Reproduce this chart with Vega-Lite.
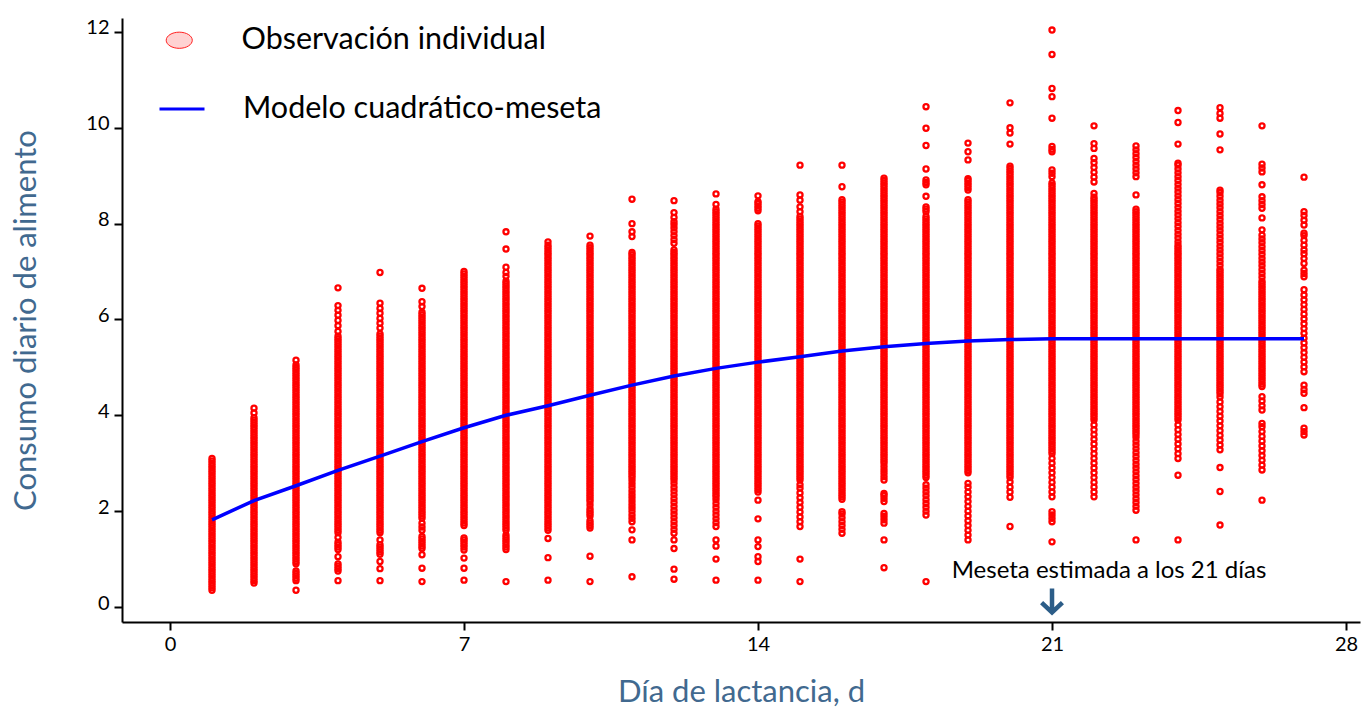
{
  "$schema": "https://vega.github.io/schema/vega-lite/v6.json",
  "width": 1238,
  "height": 604,
  "autosize": {"type": "none"},
  "padding": {"left": 122, "top": 18, "right": 1, "bottom": 90},
  "background": "white",
  "config": {"view": {"stroke": null}, "font": "Lato"},
  "datasets": {
    "obs": [
      {"d": 1, "c": [0.35,0.4,0.45,0.5,0.55,0.6,0.65,0.7,0.75,0.8,0.85,0.9,0.95,1,1.05,1.1,1.15,1.2,1.25,1.3,1.35,1.4,1.45,1.5,1.55,1.6,1.65,1.7,1.75,1.8,1.85,1.9,1.95,2,2.05,2.1,2.15,2.2,2.25,2.3,2.35,2.4,2.45,2.5,2.55,2.6,2.65,2.7,2.75,2.8,2.85,2.9,2.95,3,3.05,3.1]},
      {"d": 2, "c": [0.5,0.55,0.6,0.65,0.7,0.75,0.8,0.85,0.9,0.95,1,1.05,1.1,1.15,1.2,1.25,1.3,1.35,1.4,1.45,1.5,1.55,1.6,1.65,1.7,1.75,1.8,1.85,1.9,1.95,2,2.05,2.1,2.15,2.2,2.25,2.3,2.35,2.4,2.45,2.5,2.55,2.6,2.65,2.7,2.75,2.8,2.85,2.9,2.95,3,3.05,3.1,3.15,3.2,3.25,3.3,3.35,3.4,3.45,3.5,3.55,3.6,3.65,3.7,3.75,3.8,3.85,3.9,3.95,4.05,4.15]},
      {"d": 3, "c": [0.35,0.55,0.6,0.65,0.7,0.75,0.9,0.95,1,1.05,1.1,1.15,1.2,1.25,1.3,1.35,1.4,1.45,1.5,1.55,1.6,1.65,1.7,1.75,1.8,1.85,1.9,1.95,2,2.05,2.1,2.15,2.2,2.25,2.3,2.35,2.4,2.45,2.5,2.55,2.6,2.65,2.7,2.75,2.8,2.85,2.9,2.95,3,3.05,3.1,3.15,3.2,3.25,3.3,3.35,3.4,3.45,3.5,3.55,3.6,3.65,3.7,3.75,3.8,3.85,3.9,3.95,4,4.05,4.1,4.15,4.2,4.25,4.3,4.35,4.4,4.45,4.5,4.55,4.6,4.65,4.7,4.75,4.8,4.85,4.9,4.95,5,5.05,5.15]},
      {"d": 4, "c": [0.55,0.75,0.8,0.85,0.9,1.05,1.2,1.25,1.3,1.35,1.45,1.55,1.6,1.65,1.7,1.75,1.8,1.85,1.9,1.95,2,2.05,2.1,2.15,2.2,2.25,2.3,2.35,2.4,2.45,2.5,2.55,2.6,2.65,2.7,2.75,2.8,2.85,2.9,2.95,3,3.05,3.1,3.15,3.2,3.25,3.3,3.35,3.4,3.45,3.5,3.55,3.6,3.65,3.7,3.75,3.8,3.85,3.9,3.95,4,4.05,4.1,4.15,4.2,4.25,4.3,4.35,4.4,4.45,4.5,4.55,4.6,4.65,4.7,4.75,4.8,4.85,4.9,4.95,5,5.05,5.1,5.15,5.2,5.25,5.3,5.35,5.4,5.45,5.5,5.55,5.6,5.65,5.75,5.87,5.98,6.09,6.19,6.29,6.66]},
      {"d": 5, "c": [0.55,0.8,0.95,1.1,1.15,1.2,1.25,1.3,1.4,1.55,1.6,1.65,1.7,1.75,1.8,1.85,1.9,1.95,2,2.05,2.1,2.15,2.2,2.25,2.3,2.35,2.4,2.45,2.5,2.55,2.6,2.65,2.7,2.75,2.8,2.85,2.9,2.95,3,3.05,3.1,3.15,3.2,3.25,3.3,3.35,3.4,3.45,3.5,3.55,3.6,3.65,3.7,3.75,3.8,3.85,3.9,3.95,4,4.05,4.1,4.15,4.2,4.25,4.3,4.35,4.4,4.45,4.5,4.55,4.6,4.65,4.7,4.75,4.8,4.85,4.9,4.95,5,5.05,5.1,5.15,5.2,5.25,5.3,5.35,5.4,5.45,5.5,5.55,5.6,5.65,5.7,5.82,5.92,6.02,6.13,6.23,6.34,6.98]},
      {"d": 6, "c": [0.53,0.81,1.09,1.22,1.27,1.32,1.37,1.42,1.47,1.6,1.67,1.75,1.85,1.9,1.95,2,2.05,2.1,2.15,2.2,2.25,2.3,2.35,2.4,2.45,2.5,2.55,2.6,2.65,2.7,2.75,2.8,2.85,2.9,2.95,3,3.05,3.1,3.15,3.2,3.25,3.3,3.35,3.4,3.45,3.5,3.55,3.6,3.65,3.7,3.75,3.8,3.85,3.9,3.95,4,4.05,4.1,4.15,4.2,4.25,4.3,4.35,4.4,4.45,4.5,4.55,4.6,4.65,4.7,4.75,4.8,4.85,4.9,4.95,5,5.05,5.1,5.15,5.2,5.25,5.3,5.35,5.4,5.45,5.5,5.55,5.6,5.65,5.7,5.75,5.8,5.85,5.9,5.95,6,6.05,6.1,6.15,6.27,6.37,6.65]},
      {"d": 7, "c": [0.56,0.81,1.02,1.19,1.25,1.3,1.35,1.4,1.44,1.7,1.75,1.8,1.85,1.9,1.95,2,2.05,2.1,2.15,2.2,2.25,2.3,2.35,2.4,2.45,2.5,2.55,2.6,2.65,2.7,2.75,2.8,2.85,2.9,2.95,3,3.05,3.1,3.15,3.2,3.25,3.3,3.35,3.4,3.45,3.5,3.55,3.6,3.65,3.7,3.75,3.8,3.85,3.9,3.95,4,4.05,4.1,4.15,4.2,4.25,4.3,4.35,4.4,4.45,4.5,4.55,4.6,4.65,4.7,4.75,4.8,4.85,4.9,4.95,5,5.05,5.1,5.15,5.2,5.25,5.3,5.35,5.4,5.45,5.5,5.55,5.6,5.65,5.7,5.75,5.8,5.85,5.9,5.95,6,6.05,6.1,6.15,6.2,6.25,6.3,6.35,6.4,6.45,6.5,6.55,6.6,6.65,6.7,6.75,6.8,6.85,6.9,6.95,7]},
      {"d": 8, "c": [0.53,1.2,1.25,1.3,1.35,1.4,1.45,1.5,1.6,1.65,1.7,1.75,1.8,1.85,1.9,1.95,2,2.05,2.1,2.15,2.2,2.25,2.3,2.35,2.4,2.45,2.5,2.55,2.6,2.65,2.7,2.75,2.8,2.85,2.9,2.95,3,3.05,3.1,3.15,3.2,3.25,3.3,3.35,3.4,3.45,3.5,3.55,3.6,3.65,3.7,3.75,3.8,3.85,3.9,3.95,4,4.05,4.1,4.15,4.2,4.25,4.3,4.35,4.4,4.45,4.5,4.55,4.6,4.65,4.7,4.75,4.8,4.85,4.9,4.95,5,5.05,5.1,5.15,5.2,5.25,5.3,5.35,5.4,5.45,5.5,5.55,5.6,5.65,5.7,5.75,5.8,5.85,5.9,5.95,6,6.05,6.1,6.15,6.2,6.25,6.3,6.35,6.4,6.45,6.5,6.55,6.6,6.65,6.7,6.75,6.8,6.9,6.98,7.09,7.47,7.83]},
      {"d": 9, "c": [0.56,1.03,1.43,1.6,1.65,1.7,1.75,1.8,1.85,1.9,1.95,2,2.05,2.1,2.15,2.2,2.25,2.3,2.35,2.4,2.45,2.5,2.55,2.6,2.65,2.7,2.75,2.8,2.85,2.9,2.95,3,3.05,3.1,3.15,3.2,3.25,3.3,3.35,3.4,3.45,3.5,3.55,3.6,3.65,3.7,3.75,3.8,3.85,3.9,3.95,4,4.05,4.1,4.15,4.2,4.25,4.3,4.35,4.4,4.45,4.5,4.55,4.6,4.65,4.7,4.75,4.8,4.85,4.9,4.95,5,5.05,5.1,5.15,5.2,5.25,5.3,5.35,5.4,5.45,5.5,5.55,5.6,5.65,5.7,5.75,5.8,5.85,5.9,5.95,6,6.05,6.1,6.15,6.2,6.25,6.3,6.35,6.4,6.45,6.5,6.55,6.6,6.65,6.7,6.75,6.8,6.85,6.9,6.95,7,7.05,7.1,7.15,7.2,7.25,7.3,7.35,7.4,7.45,7.5,7.55,7.62]},
      {"d": 10, "c": [0.53,1.06,1.65,1.7,1.75,1.8,1.9,1.95,2,2.05,2.13,2.2,2.25,2.3,2.35,2.4,2.45,2.5,2.55,2.6,2.65,2.7,2.75,2.8,2.85,2.9,2.95,3,3.05,3.1,3.15,3.2,3.25,3.3,3.35,3.4,3.45,3.5,3.55,3.6,3.65,3.7,3.75,3.8,3.85,3.9,3.95,4,4.05,4.1,4.15,4.2,4.25,4.3,4.35,4.4,4.45,4.5,4.55,4.6,4.65,4.7,4.75,4.8,4.85,4.9,4.95,5,5.05,5.1,5.15,5.2,5.25,5.3,5.35,5.4,5.45,5.5,5.55,5.6,5.65,5.7,5.75,5.8,5.85,5.9,5.95,6,6.05,6.1,6.15,6.2,6.25,6.3,6.35,6.4,6.45,6.5,6.55,6.6,6.65,6.7,6.75,6.8,6.85,6.9,6.95,7,7.05,7.1,7.15,7.2,7.25,7.3,7.35,7.4,7.45,7.5,7.55,7.74]},
      {"d": 11, "c": [0.63,1.4,1.61,1.78,1.85,1.92,2,2.07,2.14,2.21,2.28,2.35,2.42,2.5,2.57,2.64,2.7,2.75,2.8,2.85,2.9,2.95,3,3.05,3.1,3.15,3.2,3.25,3.3,3.35,3.4,3.45,3.5,3.55,3.6,3.65,3.7,3.75,3.8,3.85,3.9,3.95,4,4.05,4.1,4.15,4.2,4.25,4.3,4.35,4.4,4.45,4.5,4.55,4.6,4.65,4.7,4.75,4.8,4.85,4.9,4.95,5,5.05,5.1,5.15,5.2,5.25,5.3,5.35,5.4,5.45,5.5,5.55,5.6,5.65,5.7,5.75,5.8,5.85,5.9,5.95,6,6.05,6.1,6.15,6.2,6.25,6.3,6.35,6.4,6.45,6.5,6.55,6.6,6.65,6.7,6.75,6.8,6.85,6.9,6.95,7,7.05,7.1,7.15,7.2,7.25,7.3,7.35,7.4,7.73,7.83,8,8.51]},
      {"d": 12, "c": [0.58,0.79,1.22,1.4,1.54,1.62,1.7,1.78,1.86,1.94,2.02,2.1,2.18,2.26,2.34,2.42,2.5,2.58,2.65,2.7,2.75,2.8,2.85,2.9,2.95,3,3.05,3.1,3.15,3.2,3.25,3.3,3.35,3.4,3.45,3.5,3.55,3.6,3.65,3.7,3.75,3.8,3.85,3.9,3.95,4,4.05,4.1,4.15,4.2,4.25,4.3,4.35,4.4,4.45,4.5,4.55,4.6,4.65,4.7,4.75,4.8,4.85,4.9,4.95,5,5.05,5.1,5.15,5.2,5.25,5.3,5.35,5.4,5.45,5.5,5.55,5.6,5.65,5.7,5.75,5.8,5.85,5.9,5.95,6,6.05,6.1,6.15,6.2,6.25,6.3,6.35,6.4,6.45,6.5,6.55,6.6,6.65,6.7,6.75,6.8,6.85,6.9,6.95,7,7.05,7.1,7.15,7.2,7.25,7.3,7.35,7.4,7.45,7.59,7.67,7.75,7.83,7.91,7.98,8.04,8.13,8.23,8.48]},
      {"d": 13, "c": [0.56,1,1.27,1.4,1.68,1.76,1.84,1.92,2,2.08,2.16,2.24,2.3,2.35,2.4,2.45,2.5,2.55,2.6,2.65,2.7,2.75,2.8,2.85,2.9,2.95,3,3.05,3.1,3.15,3.2,3.25,3.3,3.35,3.4,3.45,3.5,3.55,3.6,3.65,3.7,3.75,3.8,3.85,3.9,3.95,4,4.05,4.1,4.15,4.2,4.25,4.3,4.35,4.4,4.45,4.5,4.55,4.6,4.65,4.7,4.75,4.8,4.85,4.9,4.95,5,5.05,5.1,5.15,5.2,5.25,5.3,5.35,5.4,5.45,5.5,5.55,5.6,5.65,5.7,5.75,5.8,5.85,5.9,5.95,6,6.05,6.1,6.15,6.2,6.25,6.3,6.35,6.4,6.45,6.5,6.55,6.6,6.65,6.7,6.75,6.8,6.85,6.9,6.95,7,7.05,7.1,7.15,7.2,7.25,7.3,7.35,7.4,7.45,7.5,7.55,7.6,7.65,7.7,7.75,7.8,7.85,7.9,7.95,8,8.05,8.1,8.15,8.2,8.25,8.3,8.4,8.62]},
      {"d": 14, "c": [0.56,0.95,1.05,1.26,1.4,1.84,2.23,2.4,2.45,2.5,2.55,2.6,2.65,2.7,2.75,2.8,2.85,2.9,2.95,3,3.05,3.1,3.15,3.2,3.25,3.3,3.35,3.4,3.45,3.5,3.55,3.6,3.65,3.7,3.75,3.8,3.85,3.9,3.95,4,4.05,4.1,4.15,4.2,4.25,4.3,4.35,4.4,4.45,4.5,4.55,4.6,4.65,4.7,4.75,4.8,4.85,4.9,4.95,5,5.05,5.1,5.15,5.2,5.25,5.3,5.35,5.4,5.45,5.5,5.55,5.6,5.65,5.7,5.75,5.8,5.85,5.9,5.95,6,6.05,6.1,6.15,6.2,6.25,6.3,6.35,6.4,6.45,6.5,6.55,6.6,6.65,6.7,6.75,6.8,6.85,6.9,6.95,7,7.05,7.1,7.15,7.2,7.25,7.3,7.35,7.4,7.45,7.5,7.55,7.6,7.65,7.7,7.75,7.8,7.85,7.9,7.95,8,8.27,8.32,8.37,8.42,8.46,8.58]},
      {"d": 15, "c": [0.53,1,1.68,1.78,1.88,1.98,2.08,2.18,2.28,2.38,2.48,2.55,2.65,2.7,2.75,2.8,2.85,2.9,2.95,3,3.05,3.1,3.15,3.2,3.25,3.3,3.35,3.4,3.45,3.5,3.55,3.6,3.65,3.7,3.75,3.8,3.85,3.9,3.95,4,4.05,4.1,4.15,4.2,4.25,4.3,4.35,4.4,4.45,4.5,4.55,4.6,4.65,4.7,4.75,4.8,4.85,4.9,4.95,5,5.05,5.1,5.15,5.2,5.25,5.3,5.35,5.4,5.45,5.5,5.55,5.6,5.65,5.7,5.75,5.8,5.85,5.9,5.95,6,6.05,6.1,6.15,6.2,6.25,6.3,6.35,6.4,6.45,6.5,6.55,6.6,6.65,6.7,6.75,6.8,6.85,6.9,6.95,7,7.05,7.1,7.15,7.2,7.25,7.3,7.35,7.4,7.45,7.5,7.55,7.6,7.65,7.7,7.75,7.8,7.85,7.9,7.95,8,8.05,8.1,8.15,8.25,8.35,8.49,8.6,9.22]},
      {"d": 16, "c": [1.54,1.62,1.7,1.78,1.86,1.94,1.99,2.25,2.3,2.35,2.4,2.45,2.5,2.55,2.6,2.65,2.7,2.75,2.8,2.85,2.9,2.95,3,3.05,3.1,3.15,3.2,3.25,3.3,3.35,3.4,3.45,3.5,3.55,3.6,3.65,3.7,3.75,3.8,3.85,3.9,3.95,4,4.05,4.1,4.15,4.2,4.25,4.3,4.35,4.4,4.45,4.5,4.55,4.6,4.65,4.7,4.75,4.8,4.85,4.9,4.95,5,5.05,5.1,5.15,5.2,5.25,5.3,5.35,5.4,5.45,5.5,5.55,5.6,5.65,5.7,5.75,5.8,5.85,5.9,5.95,6,6.05,6.1,6.15,6.2,6.25,6.3,6.35,6.4,6.45,6.5,6.55,6.6,6.65,6.7,6.75,6.8,6.85,6.9,6.95,7,7.05,7.1,7.15,7.2,7.25,7.3,7.35,7.4,7.45,7.5,7.55,7.6,7.65,7.7,7.75,7.8,7.85,7.9,7.95,8,8.05,8.1,8.15,8.2,8.25,8.3,8.35,8.4,8.45,8.5,8.77,9.22]},
      {"d": 17, "c": [0.82,1.4,1.75,1.82,1.89,1.95,2.2,2.27,2.33,2.37,2.65,2.72,2.79,2.86,2.93,3,3.05,3.1,3.15,3.2,3.25,3.3,3.35,3.4,3.45,3.5,3.55,3.6,3.65,3.7,3.75,3.8,3.85,3.9,3.95,4,4.05,4.1,4.15,4.2,4.25,4.3,4.35,4.4,4.45,4.5,4.55,4.6,4.65,4.7,4.75,4.8,4.85,4.9,4.95,5,5.05,5.1,5.15,5.2,5.25,5.3,5.35,5.4,5.45,5.5,5.55,5.6,5.65,5.7,5.75,5.8,5.85,5.9,5.95,6,6.05,6.1,6.15,6.2,6.25,6.3,6.35,6.4,6.45,6.5,6.55,6.6,6.65,6.7,6.75,6.8,6.85,6.9,6.95,7,7.05,7.1,7.15,7.2,7.25,7.3,7.35,7.4,7.45,7.5,7.55,7.6,7.65,7.7,7.75,7.8,7.85,7.9,7.95,8,8.05,8.1,8.15,8.2,8.25,8.3,8.35,8.4,8.45,8.5,8.55,8.6,8.65,8.7,8.75,8.8,8.85,8.9,8.95]},
      {"d": 18, "c": [0.53,1.92,2,2.08,2.16,2.24,2.32,2.4,2.48,2.55,2.7,2.75,2.8,2.85,2.9,2.95,3,3.05,3.1,3.15,3.2,3.25,3.3,3.35,3.4,3.45,3.5,3.55,3.6,3.65,3.7,3.75,3.8,3.85,3.9,3.95,4,4.05,4.1,4.15,4.2,4.25,4.3,4.35,4.4,4.45,4.5,4.55,4.6,4.65,4.7,4.75,4.8,4.85,4.9,4.95,5,5.05,5.1,5.15,5.2,5.25,5.3,5.35,5.4,5.45,5.5,5.55,5.6,5.65,5.7,5.75,5.8,5.85,5.9,5.95,6,6.05,6.1,6.15,6.2,6.25,6.3,6.35,6.4,6.45,6.5,6.55,6.6,6.65,6.7,6.75,6.8,6.85,6.9,6.95,7,7.05,7.1,7.15,7.2,7.25,7.3,7.35,7.4,7.45,7.5,7.55,7.6,7.65,7.7,7.75,7.8,7.85,7.9,7.95,8,8.05,8.1,8.15,8.25,8.3,8.35,8.57,8.81,8.86,8.91,9.14,9.63,9.99,10.44]},
      {"d": 19, "c": [1.4,1.5,1.6,1.7,1.8,1.9,2,2.1,2.2,2.3,2.4,2.5,2.58,2.8,2.85,2.9,2.95,3,3.05,3.1,3.15,3.2,3.25,3.3,3.35,3.4,3.45,3.5,3.55,3.6,3.65,3.7,3.75,3.8,3.85,3.9,3.95,4,4.05,4.1,4.15,4.2,4.25,4.3,4.35,4.4,4.45,4.5,4.55,4.6,4.65,4.7,4.75,4.8,4.85,4.9,4.95,5,5.05,5.1,5.15,5.2,5.25,5.3,5.35,5.4,5.45,5.5,5.55,5.6,5.65,5.7,5.75,5.8,5.85,5.9,5.95,6,6.05,6.1,6.15,6.2,6.25,6.3,6.35,6.4,6.45,6.5,6.55,6.6,6.65,6.7,6.75,6.8,6.85,6.9,6.95,7,7.05,7.1,7.15,7.2,7.25,7.3,7.35,7.4,7.45,7.5,7.55,7.6,7.65,7.7,7.75,7.8,7.85,7.9,7.95,8,8.05,8.1,8.15,8.2,8.25,8.3,8.35,8.4,8.45,8.5,8.7,8.75,8.8,8.85,8.9,8.94,9.33,9.5,9.68]},
      {"d": 20, "c": [1.68,2.29,2.4,2.5,2.61,2.7,2.75,2.8,2.85,2.9,2.95,3,3.05,3.1,3.15,3.2,3.25,3.3,3.35,3.4,3.45,3.5,3.55,3.6,3.65,3.7,3.75,3.8,3.85,3.9,3.95,4,4.05,4.1,4.15,4.2,4.25,4.3,4.35,4.4,4.45,4.5,4.55,4.6,4.65,4.7,4.75,4.8,4.85,4.9,4.95,5,5.05,5.1,5.15,5.2,5.25,5.3,5.35,5.4,5.45,5.5,5.55,5.6,5.65,5.7,5.75,5.8,5.85,5.9,5.95,6,6.05,6.1,6.15,6.2,6.25,6.3,6.35,6.4,6.45,6.5,6.55,6.6,6.65,6.7,6.75,6.8,6.85,6.9,6.95,7,7.05,7.1,7.15,7.2,7.25,7.3,7.35,7.4,7.45,7.5,7.55,7.6,7.65,7.7,7.75,7.8,7.85,7.9,7.95,8,8.05,8.1,8.15,8.2,8.25,8.3,8.35,8.4,8.45,8.5,8.55,8.6,8.65,8.7,8.75,8.8,8.85,8.9,8.95,9,9.05,9.1,9.15,9.2,9.66,9.89,10,10.52]},
      {"d": 21, "c": [1.36,1.78,1.85,1.92,1.99,2.3,2.4,2.5,2.6,2.7,2.8,2.9,3,3.1,3.2,3.25,3.3,3.35,3.4,3.45,3.5,3.55,3.6,3.65,3.7,3.75,3.8,3.85,3.9,3.95,4,4.05,4.1,4.15,4.2,4.25,4.3,4.35,4.4,4.45,4.5,4.55,4.6,4.65,4.7,4.75,4.8,4.85,4.9,4.95,5,5.05,5.1,5.15,5.2,5.25,5.3,5.35,5.4,5.45,5.5,5.55,5.6,5.65,5.7,5.75,5.8,5.85,5.9,5.95,6,6.05,6.1,6.15,6.2,6.25,6.3,6.35,6.4,6.45,6.5,6.55,6.6,6.65,6.7,6.75,6.8,6.85,6.9,6.95,7,7.05,7.1,7.15,7.2,7.25,7.3,7.35,7.4,7.45,7.5,7.55,7.6,7.65,7.7,7.75,7.8,7.85,7.9,7.95,8,8.05,8.1,8.15,8.2,8.25,8.3,8.35,8.4,8.45,8.5,8.55,8.6,8.65,8.7,8.75,8.8,8.85,8.98,9.05,9.12,9.5,9.55,9.61,10.2,10.65,10.82,11.53,12.04]},
      {"d": 22, "c": [2.3,2.4,2.5,2.6,2.7,2.8,2.9,3,3.1,3.2,3.3,3.4,3.5,3.6,3.7,3.8,3.9,3.95,4,4.05,4.1,4.15,4.2,4.25,4.3,4.35,4.4,4.45,4.5,4.55,4.6,4.65,4.7,4.75,4.8,4.85,4.9,4.95,5,5.05,5.1,5.15,5.2,5.25,5.3,5.35,5.4,5.45,5.5,5.55,5.6,5.65,5.7,5.75,5.8,5.85,5.9,5.95,6,6.05,6.1,6.15,6.2,6.25,6.3,6.35,6.4,6.45,6.5,6.55,6.6,6.65,6.7,6.75,6.8,6.85,6.9,6.95,7,7.05,7.1,7.15,7.2,7.25,7.3,7.35,7.4,7.45,7.5,7.55,7.6,7.65,7.7,7.75,7.8,7.85,7.9,7.95,8,8.05,8.1,8.15,8.2,8.25,8.3,8.35,8.4,8.45,8.5,8.55,8.63,8.87,8.97,9.07,9.17,9.27,9.36,9.57,9.67,10.04]},
      {"d": 23, "c": [1.4,2.02,2.1,2.18,2.26,2.34,2.42,2.5,2.58,2.66,2.74,2.82,2.9,2.98,3.06,3.14,3.22,3.3,3.38,3.46,3.54,3.6,3.65,3.7,3.75,3.8,3.85,3.9,3.95,4,4.05,4.1,4.15,4.2,4.25,4.3,4.35,4.4,4.45,4.5,4.55,4.6,4.65,4.7,4.75,4.8,4.85,4.9,4.95,5,5.05,5.1,5.15,5.2,5.25,5.3,5.35,5.4,5.45,5.5,5.55,5.6,5.65,5.7,5.75,5.8,5.85,5.9,5.95,6,6.05,6.1,6.15,6.2,6.25,6.3,6.35,6.4,6.45,6.5,6.55,6.6,6.65,6.7,6.75,6.8,6.85,6.9,6.95,7,7.05,7.1,7.15,7.2,7.25,7.3,7.35,7.4,7.45,7.5,7.55,7.6,7.65,7.7,7.75,7.8,7.85,7.9,7.95,8,8.05,8.1,8.15,8.2,8.25,8.3,8.6,8.98,9.06,9.14,9.22,9.3,9.38,9.46,9.54,9.62]},
      {"d": 24, "c": [1.4,2.75,3.1,3.2,3.3,3.4,3.5,3.6,3.7,3.8,3.9,3.95,4,4.05,4.1,4.15,4.2,4.25,4.3,4.35,4.4,4.45,4.5,4.55,4.6,4.65,4.7,4.75,4.8,4.85,4.9,4.95,5,5.05,5.1,5.15,5.2,5.25,5.3,5.35,5.4,5.45,5.5,5.55,5.6,5.65,5.7,5.75,5.8,5.85,5.9,5.95,6,6.05,6.1,6.15,6.2,6.25,6.3,6.35,6.4,6.45,6.5,6.55,6.6,6.65,6.7,6.75,6.8,6.85,6.9,6.95,7,7.05,7.1,7.15,7.2,7.25,7.3,7.35,7.4,7.45,7.5,7.55,7.62,7.7,7.78,7.86,7.94,8.02,8.1,8.18,8.26,8.34,8.42,8.5,8.58,8.66,8.74,8.82,8.9,8.98,9.06,9.14,9.22,9.26,9.66,10.11,10.36]},
      {"d": 25, "c": [1.71,2.41,2.91,3.28,3.38,3.48,3.58,3.68,3.78,3.88,3.98,4.08,4.18,4.28,4.38,4.45,4.5,4.55,4.6,4.65,4.7,4.75,4.8,4.85,4.9,4.95,5,5.05,5.1,5.15,5.2,5.25,5.3,5.35,5.4,5.45,5.5,5.55,5.6,5.65,5.7,5.75,5.8,5.85,5.9,5.95,6,6.05,6.1,6.15,6.2,6.25,6.3,6.35,6.4,6.45,6.5,6.55,6.6,6.65,6.7,6.75,6.8,6.85,6.9,6.95,7,7.05,7.13,7.21,7.29,7.37,7.45,7.53,7.61,7.69,7.77,7.85,7.93,8.01,8.09,8.17,8.25,8.33,8.41,8.49,8.57,8.65,8.7,9.54,9.87,10.2,10.3,10.42]},
      {"d": 26, "c": [2.23,2.86,2.96,3.06,3.16,3.26,3.36,3.46,3.56,3.66,3.76,3.83,4.11,4.2,4.3,4.39,4.6,4.65,4.7,4.75,4.8,4.85,4.9,4.95,5,5.05,5.1,5.15,5.2,5.25,5.3,5.35,5.4,5.45,5.5,5.55,5.6,5.65,5.7,5.75,5.8,5.85,5.9,5.95,6,6.05,6.1,6.15,6.2,6.25,6.3,6.35,6.4,6.45,6.5,6.55,6.6,6.65,6.7,6.75,6.8,6.88,6.96,7.04,7.12,7.2,7.28,7.36,7.44,7.52,7.6,7.68,7.76,7.87,8.12,8.32,8.4,8.48,8.56,8.81,9.08,9.16,9.24,10.04]},
      {"d": 27, "c": [3.59,3.66,3.73,4.16,4.46,4.54,4.63,4.91,5.01,5.11,5.21,5.31,5.41,5.51,5.61,5.71,5.81,5.91,6.01,6.11,6.21,6.31,6.41,6.51,6.62,6.89,6.96,7.03,7.17,7.27,7.37,7.45,7.55,7.65,7.75,7.8,7.97,8.07,8.17,8.25,8.97]}
    ],
    "modelo": [
      {"d": 1, "m": 1.82}, {"d": 2, "m": 2.22}, {"d": 3, "m": 2.53}, {"d": 4, "m": 2.85},
      {"d": 5, "m": 3.15}, {"d": 6, "m": 3.45}, {"d": 7, "m": 3.74}, {"d": 8, "m": 4.0},
      {"d": 9, "m": 4.2}, {"d": 10, "m": 4.42}, {"d": 11, "m": 4.63}, {"d": 12, "m": 4.82},
      {"d": 13, "m": 4.98}, {"d": 14, "m": 5.11}, {"d": 15, "m": 5.22}, {"d": 16, "m": 5.34},
      {"d": 17, "m": 5.43}, {"d": 18, "m": 5.5}, {"d": 19, "m": 5.55}, {"d": 20, "m": 5.58},
      {"d": 21, "m": 5.6}, {"d": 22, "m": 5.6}, {"d": 23, "m": 5.6}, {"d": 24, "m": 5.6},
      {"d": 25, "m": 5.6}, {"d": 26, "m": 5.6}, {"d": 27, "m": 5.6}
    ]
  },
  "layer": [
    {
      "data": {"name": "obs"},
      "transform": [{"flatten": ["c"]}],
      "mark": {"type": "point", "filled": false, "color": "#ff0000", "size": 26, "strokeWidth": 2.3, "opacity": 1},
      "encoding": {
        "x": {
          "field": "d",
          "type": "quantitative",
          "scale": {"domain": [-1.143, 28.333], "nice": false, "zero": false},
          "axis": {
            "values": [0, 7, 14, 21, 28],
            "title": "Día de lactancia, d",
            "titleFontSize": 31,
            "titleFontWeight": "normal",
            "titleColor": "#41698f",
            "titlePadding": 23,
            "labelFontSize": 20,
            "labelColor": "#000000",
            "labelPadding": 4,
            "grid": false,
            "domainColor": "#000000",
            "domainWidth": 2,
            "tickColor": "#000000",
            "tickWidth": 2,
            "tickSize": 8
          }
        },
        "y": {
          "field": "c",
          "type": "quantitative",
          "scale": {"domain": [-0.313, 12.291], "nice": false, "zero": false},
          "axis": {
            "values": [0, 2, 4, 6, 8, 10, 12],
            "title": "Consumo diario de alimento",
            "titleFontSize": 31,
            "titleFontWeight": "normal",
            "titleColor": "#41698f",
            "titlePadding": 43,
            "labelFontSize": 20,
            "labelColor": "#000000",
            "labelBaseline": "alphabetic",
            "labelOffset": 2,
            "labelPadding": 5,
            "grid": false,
            "domainColor": "#000000",
            "domainWidth": 2,
            "tickColor": "#000000",
            "tickWidth": 2,
            "tickSize": 8
          }
        }
      }
    },
    {
      "data": {"values": []},
      "mark": {"type": "point", "filled": true, "fill": "#ffd2d2", "stroke": "#ff2020", "opacity": 1},
      "encoding": {
        "x": {"field": "d", "type": "quantitative"},
        "y": {"field": "c", "type": "quantitative"},
        "shape": {
          "datum": "Observación individual",
          "type": "nominal",
          "scale": {"range": ["M-1,0A1,0.62,0,1,0,1,0A1,0.62,0,1,0,-1,0Z"]},
          "legend": {
            "orient": "none",
            "legendX": 42,
            "legendY": 7,
            "title": null,
            "labelFontSize": 30.5,
            "labelColor": "#000000",
            "labelLimit": 0,
            "labelOffset": 47,
            "symbolSize": 680,
            "symbolStrokeWidth": 1
          }
        }
      }
    },
    {
      "data": {"name": "modelo"},
      "mark": {"type": "line", "strokeWidth": 3.5},
      "encoding": {
        "x": {"field": "d", "type": "quantitative"},
        "y": {"field": "m", "type": "quantitative"},
        "color": {
          "datum": "Modelo cuadrático-meseta",
          "type": "nominal",
          "scale": {"range": ["#0000ff"]},
          "legend": {
            "orient": "none",
            "legendX": 36,
            "legendY": 67,
            "title": null,
            "labelFontSize": 30.5,
            "labelColor": "#000000",
            "labelLimit": 0,
            "labelOffset": 37,
            "symbolType": "stroke",
            "symbolSize": 2025,
            "symbolStrokeWidth": 3
          }
        }
      }
    },
    {
      "data": {"values": [{}]},
      "mark": {"type": "text", "align": "center", "baseline": "middle", "dx": 57, "fontSize": 24, "color": "#000000"},
      "encoding": {
        "x": {"datum": 21},
        "y": {"datum": 0.76},
        "text": {"value": "Meseta estimada a los 21 días"}
      }
    },
    {
      "data": {"values": [{}]},
      "mark": {
        "type": "point",
        "shape": "M0,-1V0.95M-0.85,0.15L0,0.95L0.85,0.15",
        "size": 600,
        "filled": false,
        "stroke": "#2c5d88",
        "strokeWidth": 4.5,
        "opacity": 1
      },
      "encoding": {
        "x": {"datum": 21},
        "y": {"datum": 0.13}
      }
    }
  ]
}
